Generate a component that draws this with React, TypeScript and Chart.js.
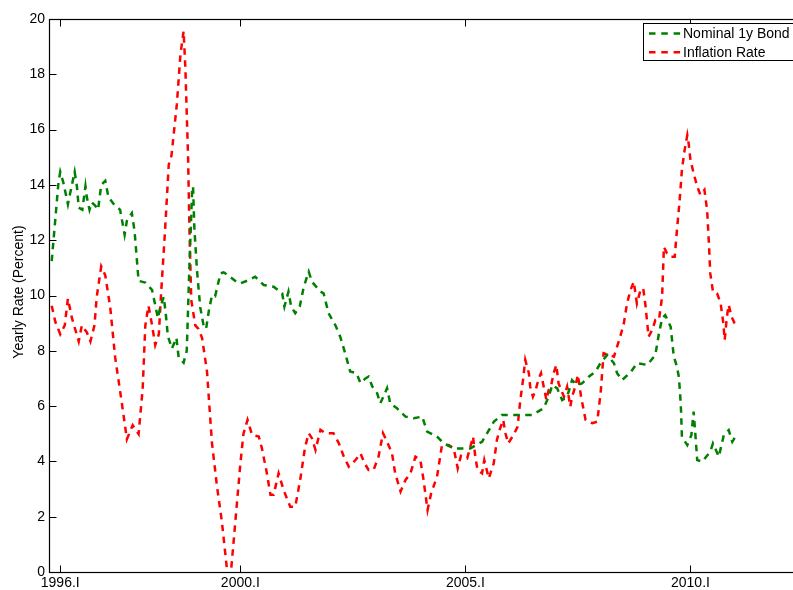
import React, { useEffect, useRef } from "react";
import { Chart, registerables } from "chart.js";

Chart.register(...registerables);

// ---- data ----
const xTickYears = [1996, 2000, 2005, 2010];
const yMin = 0;
const yMax = 20;
const yStep = 2;
const xMin = 1995.75;
const xMax = 2012.5;
const seriesLabels = ["Nominal 1y Bond", "Inflation Rate"];
const yAxisTitle = "Yearly Rate (Percent)";

const bondYears = [
  1995.81, 1995.96, 1996.0, 1996.07, 1996.17, 1996.22, 1996.32, 1996.37, 1996.41, 1996.49,
  1996.56, 1996.59, 1996.65, 1996.7, 1996.78, 1996.84, 1996.91, 1997.0, 1997.07, 1997.19,
  1997.33, 1997.43, 1997.48, 1997.59, 1997.65, 1997.74, 1997.89, 1998.04, 1998.17, 1998.22,
  1998.3, 1998.35, 1998.39, 1998.48, 1998.58, 1998.63, 1998.74, 1998.81, 1998.87, 1998.93,
  1998.95, 1998.98, 1999.04, 1999.11, 1999.19, 1999.24, 1999.3, 1999.37, 1999.44, 1999.56,
  1999.63, 1999.74, 1999.93, 2000.0, 2000.19, 2000.33, 2000.52, 2000.74, 2000.93, 2000.98,
  2001.07, 2001.13, 2001.22, 2001.32, 2001.41, 2001.52, 2001.59, 2001.78, 2001.85, 2001.96,
  2002.11, 2002.22, 2002.33, 2002.44, 2002.58, 2002.67, 2002.78, 2002.85, 2002.93, 2003.04,
  2003.11, 2003.21, 2003.26, 2003.33, 2003.48, 2003.67, 2003.85, 2004.04, 2004.15, 2004.37,
  2004.52, 2004.74, 2004.89, 2005.11, 2005.37, 2005.63, 2005.81, 2006.04, 2006.26, 2006.48,
  2006.74, 2006.85, 2006.93, 2007.04, 2007.15, 2007.26, 2007.37, 2007.48, 2007.59, 2007.74,
  2007.89, 2008.0, 2008.15, 2008.3, 2008.37, 2008.48, 2008.67, 2008.81, 2009.04, 2009.22,
  2009.3, 2009.37, 2009.44, 2009.56, 2009.63, 2009.7, 2009.74, 2009.77, 2009.79, 2009.81,
  2009.93, 2010.02, 2010.07, 2010.11, 2010.15, 2010.26, 2010.44, 2010.5, 2010.63, 2010.74,
  2010.85, 2010.93, 2011.04,
];
const bondRates = [
  11.24, 14.08, 14.47, 14.08, 13.3, 13.7, 14.47, 13.95, 13.18, 13.1,
  13.95, 13.56, 13.1, 13.37, 13.24, 13.1, 14.0, 14.15, 13.56, 13.3,
  13.1, 12.2, 12.7, 12.98, 12.34, 10.53, 10.47, 10.2, 9.18, 9.57,
  9.95, 9.24, 8.54, 8.08, 8.47, 7.76, 7.57, 8.0, 11.1, 13.82,
  13.95, 12.4, 10.86, 9.57, 8.86, 8.8, 9.44, 10.0, 9.97, 10.8,
  10.84, 10.72, 10.47, 10.44, 10.56, 10.68, 10.38, 10.32, 10.08, 9.6,
  10.14, 9.6, 9.36, 9.6, 10.32, 10.86, 10.5, 10.14, 10.08, 9.36,
  8.93, 8.51, 7.91, 7.25, 7.19, 6.83, 7.0, 7.07, 6.71, 6.46,
  6.1, 6.46, 6.65, 6.1, 5.92, 5.62, 5.56, 5.62, 5.08, 4.9,
  4.65, 4.47, 4.47, 4.47, 4.71, 5.43, 5.68, 5.68, 5.68, 5.68,
  5.92, 6.34, 6.76, 6.64, 6.22, 6.34, 6.94, 6.76, 6.82, 7.06,
  7.25, 7.55, 7.85, 7.55, 7.19, 6.94, 7.22, 7.55, 7.49, 7.85,
  8.63, 9.17, 9.29, 8.87, 7.79, 7.43, 7.07, 6.46, 5.86, 4.89,
  4.59, 4.95, 5.8, 4.95, 4.05, 3.99, 4.35, 4.65, 4.17, 4.95,
  5.13, 4.71, 5.01,
];

const inflYears = [
  1995.81, 1995.89, 1996.0, 1996.1, 1996.17, 1996.26, 1996.41, 1996.48, 1996.59, 1996.67,
  1996.76, 1996.81, 1996.91, 1997.0, 1997.11, 1997.22, 1997.37, 1997.48, 1997.61, 1997.74,
  1997.83, 1997.89, 1997.96, 1998.04, 1998.11, 1998.19, 1998.24, 1998.33, 1998.41, 1998.47,
  1998.59, 1998.67, 1998.74, 1998.78, 1998.84, 1998.87, 1998.91, 1999.0, 1999.07, 1999.15,
  1999.26, 1999.37, 1999.48, 1999.59, 1999.7, 1999.8, 1999.89, 2000.0, 2000.07, 2000.16,
  2000.26, 2000.41, 2000.48, 2000.59, 2000.67, 2000.74, 2000.85, 2000.96, 2001.11, 2001.22,
  2001.33, 2001.44, 2001.52, 2001.59, 2001.67, 2001.78, 2001.89, 2002.07, 2002.19, 2002.3,
  2002.41, 2002.56, 2002.67, 2002.76, 2002.85, 2002.96, 2003.07, 2003.17, 2003.26, 2003.37,
  2003.44, 2003.56, 2003.67, 2003.78, 2003.89, 2004.0, 2004.07, 2004.16, 2004.24, 2004.37,
  2004.48, 2004.63, 2004.74, 2004.83, 2004.9, 2005.04, 2005.11, 2005.17, 2005.22, 2005.27,
  2005.37, 2005.42, 2005.52, 2005.63, 2005.7, 2005.76, 2005.84, 2005.89, 2005.95, 2006.07,
  2006.16, 2006.22, 2006.28, 2006.33, 2006.41, 2006.44, 2006.5, 2006.56, 2006.63, 2006.68,
  2006.74, 2006.8, 2006.85, 2006.9, 2006.96, 2007.02, 2007.07, 2007.19, 2007.26, 2007.33,
  2007.37, 2007.44, 2007.5, 2007.57, 2007.67, 2007.82, 2007.93, 2008.01, 2008.07, 2008.18,
  2008.3, 2008.37, 2008.44, 2008.52, 2008.59, 2008.67, 2008.74, 2008.81, 2008.89, 2008.95,
  2009.0, 2009.07, 2009.15, 2009.22, 2009.3, 2009.37, 2009.41, 2009.48, 2009.57, 2009.65,
  2009.7, 2009.76, 2009.81, 2009.87, 2009.93, 2009.96, 2010.0, 2010.07, 2010.15, 2010.22,
  2010.31, 2010.37, 2010.41, 2010.44, 2010.5, 2010.59, 2010.67, 2010.73, 2010.76, 2010.81,
  2010.85, 2010.91, 2010.98, 2011.05,
];
const inflRates = [
  9.63, 9.05, 8.6, 8.92, 9.89, 9.18, 8.34, 8.92, 8.67, 8.34,
  8.92, 9.95, 11.05, 10.73, 9.57, 7.76, 6.09, 4.8, 5.31, 4.99,
  6.6, 8.92, 9.63, 8.92, 8.21, 8.6, 10.08, 12.4, 14.73, 15.05,
  16.92, 18.72, 19.56, 18.2, 14.98, 12.4, 9.83, 8.92, 8.79, 8.47,
  7.25, 4.67, 3.12, 1.83, 0.15, 0.15, 1.83, 3.9, 5.0, 5.5,
  4.96, 4.9, 4.47, 3.57, 2.79, 2.79, 3.57, 2.97, 2.36, 2.36,
  3.33, 4.53, 5.02, 4.84, 4.41, 5.14, 5.02, 5.02, 4.65, 4.17,
  3.81, 4.05, 4.29, 3.93, 3.69, 3.69, 4.17, 5.02, 4.71, 4.29,
  3.57, 2.91, 3.33, 3.57, 4.17, 4.05, 3.33, 2.24, 2.85, 3.45,
  4.59, 4.59, 4.47, 3.75, 4.2, 4.11, 4.53, 4.9, 4.17, 3.69,
  3.57, 4.05, 3.39, 3.93, 4.77, 5.14, 5.5, 5.02, 4.65, 4.96,
  5.26, 6.22, 6.94, 7.67, 7.19, 6.7, 6.34, 6.58, 7.0, 7.19,
  6.7, 6.22, 6.58, 6.7, 7.19, 7.49, 6.82, 6.34, 6.7, 5.98,
  6.34, 6.7, 7.13, 6.34, 5.5, 5.38, 5.44, 6.58, 7.91, 7.85,
  7.79, 8.15, 8.51, 8.99, 9.71, 10.2, 10.5, 9.71, 10.2, 10.26,
  9.65, 8.51, 8.75, 9.11, 9.11, 9.96, 11.76, 11.52, 11.4, 11.4,
  12.37, 13.45, 14.54, 15.26, 15.8, 15.5, 14.9, 14.42, 13.94, 13.64,
  13.82, 13.09, 11.88, 10.8, 10.14, 10.08, 9.72, 9.0, 8.39, 9.24,
  9.66, 9.24, 9.0, 8.9,
];

const FONT = '"Liberation Sans", Arial, Helvetica, sans-serif';
const GREEN = "#008000";
const RED = "#ff0000";
const DASH = [6.5, 5.5];

const CANVAS_W = 820;
const CANVAS_H = 590;

export default function App() {
  const ref = useRef<HTMLCanvasElement>(null);

  useEffect(() => {
    const canvas = ref.current;
    if (!canvas) return;

    const framePlugin = {
      id: "matlabFrame",
      afterDatasetsDraw(chart: any) {
        const { ctx, chartArea: a, scales } = chart;
        const L = Math.round(a.left) + 0.5;
        const R = Math.round(a.right) + 0.5;
        const T = Math.round(a.top) + 0.5;
        const B = Math.round(a.bottom) + 0.5;
        ctx.save();
        ctx.setLineDash([]);
        ctx.strokeStyle = "#000";
        ctx.lineWidth = 1;
        // inward ticks
        ctx.beginPath();
        xTickYears.forEach((v) => {
          const x = Math.round(scales.x.getPixelForValue(v)) + 0.5;
          ctx.moveTo(x, B);
          ctx.lineTo(x, B - 7);
          ctx.moveTo(x, T);
          ctx.lineTo(x, T + 7);
        });
        scales.y.ticks.forEach((t: any) => {
          const y = Math.round(scales.y.getPixelForValue(t.value)) + 0.5;
          ctx.moveTo(L, y);
          ctx.lineTo(L + 7, y);
          ctx.moveTo(R, y);
          ctx.lineTo(R - 7, y);
        });
        ctx.stroke();
        // box
        ctx.lineWidth = 1.2;
        ctx.strokeRect(L, T, R - L, B - T);

        // legend box (inside the top-right corner)
        const bx = Math.round(a.right) - 159.5;
        const by = T + 4;
        const bw = 154;
        const bh = 37;
        ctx.fillStyle = "#fff";
        ctx.fillRect(bx, by, bw, bh);
        ctx.lineWidth = 1;
        ctx.strokeRect(bx, by, bw, bh);
        ctx.font = `14px ${FONT}`;
        ctx.textBaseline = "middle";
        ctx.textAlign = "left";
        chart.data.datasets.forEach((ds: any, i: number) => {
          const yy = by + 10 + i * 18.7;
          ctx.strokeStyle = ds.borderColor;
          ctx.lineWidth = 2.5;
          ctx.setLineDash([6.5, 5.8]);
          ctx.beginPath();
          ctx.moveTo(bx + 5.5, yy);
          ctx.lineTo(bx + 37, yy);
          ctx.stroke();
          ctx.setLineDash([]);
          ctx.fillStyle = "#000";
          ctx.fillText(ds.label, bx + 39.5, yy + 0.5);
        });

        // y-axis title
        ctx.save();
        ctx.translate(19, 292);
        ctx.rotate(-Math.PI / 2);
        ctx.font = `14px ${FONT}`;
        ctx.textAlign = "center";
        ctx.textBaseline = "middle";
        ctx.fillStyle = "#000";
        ctx.fillText(yAxisTitle, 0, 0);
        ctx.restore();

        ctx.restore();
      },
    };

    const chart = new Chart(canvas, {
      type: "line",
      data: {
        datasets: [
          {
            label: seriesLabels[0],
            data: bondYears.map((x, i) => ({ x, y: bondRates[i] })),
            borderColor: GREEN,
            backgroundColor: GREEN,
            borderWidth: 2.5,
            borderDash: DASH,
            pointRadius: 0,
            tension: 0,
            fill: false,
          },
          {
            label: seriesLabels[1],
            data: inflYears.map((x, i) => ({ x, y: inflRates[i] })),
            borderColor: RED,
            backgroundColor: RED,
            borderWidth: 2.5,
            borderDash: DASH,
            pointRadius: 0,
            tension: 0,
            fill: false,
          },
        ],
      },
      options: {
        animation: false,
        responsive: false,
        devicePixelRatio: 1,
        layout: { padding: { top: 19, right: 17, left: 0, bottom: 0 } },
        plugins: {
          legend: { display: false },
          tooltip: { enabled: false },
          title: { display: false },
        },
        scales: {
          x: {
            type: "linear",
            min: xMin,
            max: xMax,
            grid: { display: false, drawTicks: false },
            border: { display: false },
            afterBuildTicks: (scale: any) => {
              scale.ticks = xTickYears.map((v) => ({ value: v }));
            },
            afterFit: (scale: any) => {
              scale.height = 18;
            },
            ticks: {
              autoSkip: false,
              maxRotation: 0,
              padding: 3,
              color: "#000",
              font: { family: FONT, size: 14 },
              callback: (v: any) => `${v}.I`,
            },
          },
          y: {
            min: yMin,
            max: yMax,
            grid: { display: false, drawTicks: false },
            border: { display: false },
            afterFit: (scale: any) => {
              scale.width = 49;
            },
            ticks: {
              stepSize: yStep,
              padding: 4,
              color: "#000",
              font: { family: FONT, size: 14 },
            },
          },
        },
      },
      plugins: [framePlugin],
    });

    return () => chart.destroy();
  }, []);

  return (
    <div
      style={{
        position: "fixed",
        left: 0,
        top: 0,
        width: 793,
        height: 590,
        overflow: "hidden",
        background: "#fff",
      }}
    >
      <canvas
        ref={ref}
        width={CANVAS_W}
        height={CANVAS_H}
        style={{ width: CANVAS_W, height: CANVAS_H, display: "block" }}
      />
    </div>
  );
}
